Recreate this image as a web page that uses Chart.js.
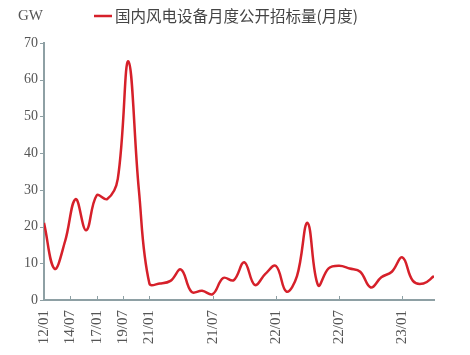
<!DOCTYPE html>
<html>
<head>
<meta charset="utf-8">
<script src="https://cdn.jsdelivr.net/npm/chart.js@4/dist/chart.umd.min.js"></script>
<style>
  html, body { margin: 0; padding: 0; background: #fff; }
  #wrap { width: 470px; height: 355px; }
</style>
</head>
<body>
<div id="wrap"><canvas id="c" width="470" height="355"></canvas></div>
<script>
const seriesName = '国内风电设备月度公开招标量(月度)';
const unitLabel = 'GW';
const values = [21, 8.5, 16, 27.5, 19, 28.5, 27.5, 33, 65, 30,
  4.5, 4.5, 5.2, 8.3, 2.2, 2.5, 1.6, 6, 5.4, 10.3,
  4.1, 7.1, 9.3, 2.3, 6.5, 21, 4, 8.6, 9.3, 8.6,
  7.7, 3.4, 6.2, 7.7, 11.6, 5.2, 4.5, 6.5];
const tickPositions = [0, 2.5, 5, 7.5, 10, 16, 22, 28, 34];
const tickLabels = ['12/01', '14/07', '17/01', '19/07', '21/01', '21/07', '22/01', '22/07', '23/01'];
const yTicks = [0, 10, 20, 30, 40, 50, 60, 70];

const lineColor = '#d6202a';
const axisColor = '#8ea0a4';
const textColor = '#555';

const points = values.map((v, i) => ({ x: i, y: v }));

const decor = {
  id: 'decor',
  afterDraw(chart) {
    const ctx = chart.ctx;
    const xs = chart.scales.x, ys = chart.scales.y;
    ctx.save();
    // x tick marks (inside)
    ctx.strokeStyle = axisColor;
    ctx.lineWidth = 1;
    const yb = ys.getPixelForValue(0);
    tickPositions.forEach(p => {
      const px = Math.round(xs.getPixelForValue(p)) + 0.5;
      ctx.beginPath(); ctx.moveTo(px, yb); ctx.lineTo(px, yb - 4); ctx.stroke();
    });
    // y tick marks (outside)
    const xl = xs.left;
    yTicks.forEach(v => {
      const py = Math.round(ys.getPixelForValue(v)) + 0.5;
      ctx.beginPath(); ctx.moveTo(xl - 4, py); ctx.lineTo(xl, py); ctx.stroke();
    });
    // unit label
    ctx.fillStyle = textColor;
    ctx.font = '15px "Liberation Serif", serif';
    ctx.textBaseline = 'middle';
    ctx.textAlign = 'left';
    ctx.fillText(unitLabel, 18, 16);
    // legend
    ctx.strokeStyle = lineColor;
    ctx.lineWidth = 2.5;
    ctx.beginPath(); ctx.moveTo(94, 16); ctx.lineTo(112, 16); ctx.stroke();
    ctx.fillStyle = '#444';
    ctx.font = '15.5px "Noto Sans CJK SC", sans-serif';
    ctx.fillText(seriesName, 115, 16);
    ctx.restore();
  }
};

new Chart(document.getElementById('c'), {
  type: 'line',
  data: {
    datasets: [{
      label: seriesName,
      data: points,
      borderColor: lineColor,
      borderWidth: 2.5,
      pointRadius: 0,
      tension: 0.4,
      fill: false
    }]
  },
  options: {
    responsive: false,
    animation: false,
    devicePixelRatio: 1,
    layout: { padding: { top: 43, right: 36, left: 0, bottom: 0 } },
    plugins: { legend: { display: false }, tooltip: { enabled: false } },
    scales: {
      x: {
        type: 'linear',
        min: 0,
        max: 37,
        afterBuildTicks(scale) {
          scale.ticks = tickPositions.map(v => ({ value: v }));
        },
        afterFit(scale) { scale.height = 55; },
        ticks: {
          autoSkip: false,
          minRotation: 90,
          maxRotation: 90,
          padding: 10,
          color: textColor,
          font: { family: '"Liberation Serif", serif', size: 15 },
          callback(value) {
            const i = tickPositions.indexOf(value);
            return i >= 0 ? tickLabels[i] : '';
          }
        },
        grid: { display: false, drawTicks: false },
        border: { display: true, color: axisColor, width: 2 }
      },
      y: {
        min: 0,
        max: 70,
        afterBuildTicks(scale) {
          scale.ticks = yTicks.map(v => ({ value: v }));
        },
        afterFit(scale) { scale.width = 44; },
        ticks: {
          padding: 6,
          color: textColor,
          font: { family: '"Liberation Serif", serif', size: 14 }
        },
        grid: { display: false, drawTicks: false },
        border: { display: true, color: axisColor, width: 2 }
      }
    }
  },
  plugins: [decor]
});
</script>
</body>
</html>
